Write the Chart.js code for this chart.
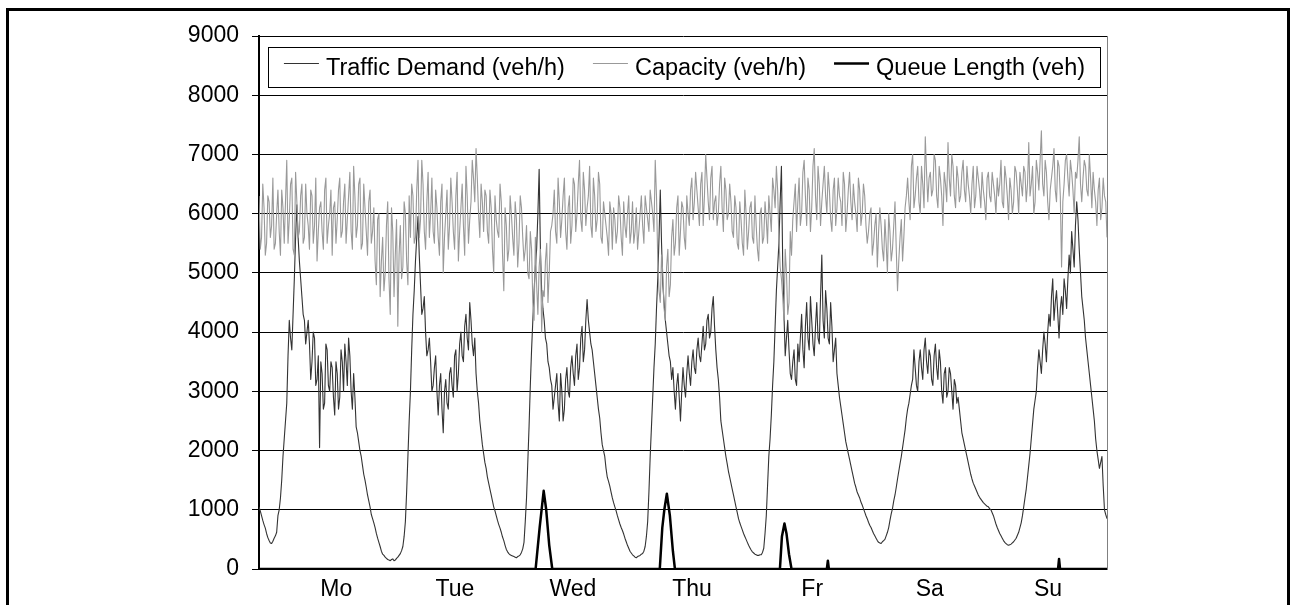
<!DOCTYPE html>
<html>
<head>
<meta charset="utf-8">
<title>Traffic demand, capacity and queue length</title>
<script src="https://cdn.jsdelivr.net/npm/chart.js@4.4.1/dist/chart.umd.min.js"></script>
<style>
  html, body { margin: 0; padding: 0; background: #fff; }
  #wrap { position: relative; width: 1292px; height: 605px; overflow: hidden; }
  #chart { position: absolute; left: 0; top: 0; display: block; }
  #frame { position: absolute; left: 6px; top: 8px; width: 1278px; height: 700px; border: 3px solid #000; pointer-events: none; }
</style>
</head>
<body>
<div id="wrap">
  <canvas id="chart" width="1292" height="605"></canvas>
  <div id="frame"></div>
</div>
<script>
// One week, index 0 = Monday 00:00. Main samples every 0.5 h,
// the "...Mid" arrays hold the readings a quarter hour after each main sample.
const stepHours = 0.5;
const dayLabels = ["Mo", "Tue", "Wed", "Thu", "Fr", "Sa", "Su"];
const dayLabelHours = [15.3, 38.8, 62.2, 85.8, 109.6, 132.9, 156.3];

// Traffic demand (veh/h)
const demand = [
  1050, 900, 750, 600, 480, 430, 520, 620, 1000, 1500,
  2200, 2800, 4200, 3700, 4900, 6150, 5200, 4600, 4200, 4000,
  3800, 3500, 3900, 3200, 2050, 3300, 2800, 3700, 3000, 3400,
  2600, 3300, 2900, 3500, 3800, 3100, 3600, 2700, 2900, 2300,
  2000, 1750, 1500, 1250, 1050, 850, 700, 520, 380, 250,
  200, 160, 140, 170, 150, 200, 260, 380, 800, 1900,
  3000, 4300, 5200, 5950, 4800, 4400, 4000, 3700, 3500, 3100,
  3600, 2600, 3300, 2300, 3200, 2700, 3400, 2900, 3700, 3300,
  4000, 3500, 4300, 3700, 4200, 3600, 3300, 2800, 2300, 1950,
  1700, 1450, 1250, 1050, 900, 750, 620, 480, 330, 260,
  230, 210, 190, 220, 280, 450, 1200, 2400, 3700, 4700,
  5400, 6750, 4700, 4200, 3800, 3400, 3100, 2900, 3300, 2500,
  3000, 2700, 3400, 2900, 3600, 3100, 3800, 3400, 4100, 3700,
  4550, 4000, 3700, 3300, 2900, 2550, 2100, 1900, 1550, 1400,
  1200, 1050, 900, 760, 650, 520, 400, 300, 240, 200,
  210, 230, 260, 380, 800, 1900, 2900, 3800, 4900, 6400,
  4800, 4200, 3800, 3500, 3400, 2700, 3300, 2500, 3400, 2900,
  3600, 3100, 3700, 3300, 3900, 3500, 4100, 3800, 4300, 4000,
  4600, 3700, 3200, 2500, 2200, 1900, 1650, 1450, 1250, 1050,
  850, 720, 600, 500, 400, 320, 270, 240, 230, 240,
  350, 900, 1900, 2600, 3500, 4700, 5500, 6800, 4300, 3900,
  3700, 3200, 3700, 3100, 3500, 4300, 3400, 4500, 3700, 4200,
  3600, 4500, 3800, 5300, 3900, 4400, 3800, 4100, 3700, 3300,
  2900, 2600, 2300, 2050, 1850, 1650, 1450, 1300, 1200, 1080,
  960, 850, 740, 650, 560, 480, 440, 460, 500, 620,
  820, 1020, 1250, 1520, 1780, 2050, 2350, 2700, 2950, 3200,
  3400, 3000, 3700, 3200, 3900, 3300, 3600, 3100, 3800, 3200,
  3500, 2800, 3400, 3000, 3300, 2700, 3100, 2900, 2500, 2200,
  2000, 1800, 1600, 1450, 1350, 1250, 1180, 1120, 1080, 1050,
  1000, 900, 760, 650, 560, 480, 430, 400, 420, 460,
  520, 620, 780, 1050, 1350, 1750, 2200, 2700, 3000, 3700,
  3300, 4000, 3500, 4300, 4600, 4200, 4700, 3900, 4600, 4900,
  4400, 5300, 5700, 5100, 6200, 5400, 4600, 4200, 3700, 3300,
  2900, 2500, 2000, 1700, 1900, 1000, 850
];
const demandMid = [
  980, 820, 690, 530, 440, 470, 560, 900, 1200, 1900,
  2500, 3600, 3900, 4300, 5600, 5600, 4900, 4300, 3800, 4200,
  3200, 4000, 3100, 3600, 3500, 2700, 3800, 3100, 3500, 2900,
  3500, 2700, 3700, 3000, 3500, 3900, 3000, 3300, 2400, 2150,
  1900, 1600, 1380, 1150, 920, 780, 600, 450, 300, 230,
  180, 150, 160, 140, 180, 230, 310, 550, 1300, 2500,
  3700, 4700, 5600, 5300, 4300, 4600, 3600, 3900, 3000, 3400,
  3000, 3100, 2700, 3000, 2800, 3300, 3100, 3600, 3000, 3800,
  3600, 4100, 3900, 4500, 3800, 3900, 3000, 2500, 2100, 1800,
  1550, 1350, 1150, 980, 820, 690, 540, 400, 290, 240,
  220, 200, 210, 240, 340, 800, 1800, 3100, 4200, 5100,
  6000, 5400, 4400, 3900, 3500, 3200, 2700, 3100, 2800, 3300,
  2500, 3200, 3000, 3400, 3300, 3600, 3200, 3900, 3500, 4200,
  4200, 3800, 3500, 3100, 2700, 2300, 2000, 1700, 1480, 1300,
  1120, 980, 830, 700, 590, 460, 350, 270, 220, 190,
  220, 250, 300, 550, 1300, 2400, 3400, 4400, 5600, 5500,
  4500, 4000, 3600, 3200, 3000, 3100, 2900, 3000, 3100, 3300,
  3300, 3500, 3400, 3700, 3600, 3800, 3700, 4200, 3900, 4400,
  4100, 3400, 2900, 2350, 2050, 1780, 1550, 1350, 1150, 950,
  780, 660, 550, 450, 360, 290, 250, 230, 240, 280,
  600, 1400, 2200, 3100, 4100, 5100, 6200, 5200, 3600, 4200,
  3300, 3500, 3200, 3800, 3900, 3700, 4100, 3900, 4600, 3800,
  4100, 3900, 4600, 4200, 4700, 3900, 4500, 3500, 3900, 3100,
  2750, 2450, 2150, 1950, 1750, 1550, 1380, 1250, 1130, 1020,
  900, 790, 700, 600, 520, 450, 430, 480, 560, 700,
  930, 1150, 1380, 1650, 1900, 2200, 2550, 2800, 3100, 3700,
  3100, 3500, 3400, 3700, 3500, 3700, 3200, 3600, 3400, 3700,
  3000, 3300, 2900, 3400, 3000, 3200, 2800, 2700, 2300, 2100,
  1900, 1700, 1520, 1400, 1300, 1210, 1150, 1100, 1060, 1020,
  950, 830, 700, 600, 520, 450, 410, 410, 440, 490,
  570, 700, 900, 1200, 1550, 1950, 2450, 2850, 3400, 3500,
  3700, 3800, 4000, 4100, 4900, 4500, 4300, 4400, 4300, 4700,
  4900, 5000, 5400, 5800, 5900, 5000, 4400, 3900, 3500, 3100,
  2700, 2200, 1850, 1800, 1400, 920
];

// Capacity (veh/h), same time steps
const capacity = [
  6300, 5600, 6100, 5500, 6200, 5800, 5400, 6000, 5700, 6400,
  5500, 6900, 5900, 6600, 5300, 6200, 5700, 6500, 5600, 6000,
  5400, 6300, 5800, 5200, 6100, 5700, 6400, 5500, 6000, 5300,
  6200, 5900, 6600, 5700, 6500, 5900, 6700, 5400, 6300, 5800,
  6600, 5500, 6100, 5300, 6400, 5700, 5200, 5900, 4600, 5600,
  5000, 6200, 4300, 5700, 5300, 4100, 5800, 5100, 6000, 4800,
  5600, 6300, 5600, 6900, 5900, 6500, 5400, 6700, 6000, 5700,
  6400, 5600, 6200, 5000, 6000, 5400, 6600, 5700, 6300, 5200,
  6100, 5800, 6800, 5500, 6200, 6600, 7100, 6000, 6500, 5700,
  6300, 5500, 6100, 5000, 5900, 5600, 6200, 4700, 5800, 5400,
  6000, 5300, 5900, 5500, 6100, 5200, 5800, 4900, 5400, 4200,
  4800, 5100, 4000, 4600, 5500, 5000, 5800, 6400, 5500, 6200,
  5900, 6600, 5400, 6300, 5800, 6500, 6000, 6900, 5700, 6400,
  6100, 6800, 5600, 6300, 5900, 6500, 5500, 6000, 5600, 6200,
  5400, 5900, 5700, 6100, 5300, 5800, 6000, 5500, 6200, 5700,
  5400, 6000, 5800, 6300, 5900, 6400, 6000, 6900, 5200, 4500,
  5000, 4200, 5400, 4800, 5900, 5500, 6300, 5700, 6100, 5400,
  6000, 6400, 5900, 6700, 6100, 6500, 5800, 7000, 6200, 6600,
  5900, 6300, 6000, 6800, 5700, 6400, 6000, 6200, 5600, 6100,
  5400, 5900, 5300, 6000, 5700, 6200, 5500, 5800, 5200, 6100,
  5600, 5900, 6300, 5700, 6400, 6800, 5600, 4900, 4200, 5000,
  4500, 5300, 6200, 5700, 6600, 6000, 6900, 5800, 6400, 6100,
  7100, 5900, 6500, 6200, 6800, 6000, 6400, 5700, 6600, 6100,
  6300, 5800, 6500, 6000, 6700, 5900, 6200, 5700, 6400, 6000,
  6300, 5500, 6000, 5300, 5800, 5100, 6100, 5400, 5900, 5000,
  5700, 5400, 6200, 4700, 5600, 5200, 6100, 6600, 5900, 7000,
  6300, 6800, 6000, 6500, 7300, 6200, 6700, 6400, 6900, 6100,
  6600, 5800, 6500, 7200, 6300, 6800, 6100, 6600, 6300, 6900,
  6200, 6500, 6000, 6800, 6300, 6600, 6100, 6400, 5900, 6700,
  6200, 6500, 6000, 6300, 6900, 6100, 6600, 5900, 6400, 6200,
  6700, 6000, 6500, 6800, 6200, 7200, 6500, 6000, 6900, 6400,
  7400, 6300, 6700, 5900, 6600, 7100, 6200, 6800, 5100, 6500,
  7000, 6300, 6700, 6000, 6600, 7300, 6200, 6900, 6400, 7000,
  6100, 6400, 5800, 6600, 6100, 6300, 5600
];
const capacityMid = [
  5400, 6500, 5300, 6300, 5600, 6600, 5500, 6400, 5300, 6100,
  6200, 5500, 6500, 5400, 6700, 5600, 6300, 5500, 6500, 5800,
  6400, 5500, 6600, 5700, 6200, 5400, 6600, 5800, 6400, 6100,
  5500, 6400, 5600, 6200, 5500, 6300, 5700, 6800, 5600, 6500,
  5400, 6500, 5700, 6200, 5500, 6100, 4800, 6000, 5200, 4700,
  5800, 4900, 6100, 4600, 5900, 5300, 4900, 6200, 5200, 6300,
  6500, 5500, 6400, 5600, 6900, 5700, 6200, 5600, 6600, 5500,
  6100, 5300, 6500, 5600, 6400, 5800, 6200, 5400, 6700, 5700,
  6500, 5300, 6300, 5900, 6900, 6200, 6600, 5600, 6200, 6400,
  5700, 6400, 5400, 6300, 5700, 6500, 5300, 6100, 5200, 6300,
  5600, 6200, 5100, 6300, 5600, 5400, 5000, 5700, 4500, 5600,
  4300, 5400, 4700, 5200, 4500, 5700, 6000, 5700, 6600, 5600,
  6300, 5700, 6100, 5500, 6600, 5700, 6500, 5900, 6700, 5800,
  6300, 5800, 6600, 5700, 6700, 5600, 6200, 5800, 5300, 6000,
  6100, 5500, 6300, 5600, 6200, 5600, 6300, 5700, 5500, 6100,
  5700, 6300, 5500, 6100, 5700, 6200, 5700, 6300, 4700, 5300,
  4400, 5100, 4600, 5600, 5300, 6100, 5300, 6200, 5600, 6300,
  5800, 6600, 6200, 6400, 5800, 6700, 6300, 6600, 5900, 6800,
  6200, 5800, 6500, 6100, 6600, 5900, 6500, 5700, 6300, 5500,
  6200, 5500, 6400, 5400, 6100, 5600, 6300, 5400, 6000, 5500,
  6200, 5500, 6000, 6600, 6100, 6400, 5100, 4600, 5400, 4300,
  5700, 5900, 6500, 6200, 5800, 6700, 6300, 6600, 5700, 6800,
  6300, 6800, 5800, 6500, 6300, 6700, 5900, 6400, 5800, 6600,
  6200, 6700, 5700, 6400, 6200, 6500, 6000, 6600, 5800, 6500,
  5800, 5700, 6100, 5500, 6000, 5700, 5800, 5200, 5500, 6000,
  5200, 5800, 5400, 5200, 5900, 5600, 6300, 6200, 6800, 6100,
  6600, 6200, 6800, 6100, 6700, 6600, 6300, 7000, 6300, 6800,
  6300, 6700, 6200, 6600, 7000, 6300, 6800, 6200, 6700, 6400,
  6800, 6300, 6500, 6100, 6800, 6400, 6700, 6200, 6600, 6300,
  6700, 6300, 6600, 6500, 6200, 6800, 6300, 6600, 6000, 6800,
  6400, 6700, 6300, 6700, 6500, 6300, 6800, 6200, 6700, 6900,
  6500, 6900, 6200, 6400, 6800, 6400, 6900, 6300, 6200, 6900,
  6600, 6900, 6400, 6700, 6900, 6500, 6600, 6800, 6300, 6600,
  6700, 6200, 6400, 5900, 6600, 6200
];

// Queue length (veh): zero most of the week, short peaks
const queueHours = [0, 54.8, 55.6, 56.4, 56.9, 57.5, 58.1, 79.4, 79.9, 80.3, 80.8, 81.4, 82.0, 82.4,
  103.2, 103.6, 104.1, 104.5, 105.0, 105.5, 112.5, 112.7, 112.9, 158.3, 158.5, 158.7, 168];
const queueValues = [0, 0, 700, 1320, 1000, 400, 0, 0, 700, 1000, 1270, 900, 300, 0,
  0, 550, 770, 600, 250, 0, 0, 140, 0, 0, 170, 0, 0];

// main + quarter-hour readings into one {x, y} series
const toPoints = (values, mids) => values.flatMap((v, i) => {
  const pts = [{ x: i * stepHours, y: v }];
  if (i < mids.length) pts.push({ x: i * stepHours + stepHours / 2, y: mids[i] });
  return pts;
});

const fontFamily = "'Liberation Sans', Arial, sans-serif";
const font = { family: fontFamily, size: 23 };

// legend in a framed box inside the top of the plot area (Excel style)
const insideLegend = {
  id: 'insideLegend',
  afterDraw(chart) {
    const a = chart.chartArea;
    const ctx = chart.ctx;
    const sets = chart.data.datasets;
    const sample = 35, textGap = 7, itemGap = 28;
    const boxLeft = a.left + 9.5, boxTop = a.top + 11.5;
    const boxW = a.right - a.left - 16, boxH = 40;

    ctx.save();
    ctx.font = '23.5px ' + fontFamily;
    const widths = sets.map((d) => sample + textGap + ctx.measureText(d.label).width);
    const total = widths.reduce((s, w) => s + w, 0) + itemGap * (sets.length - 1);

    ctx.fillStyle = '#fff';
    ctx.fillRect(boxLeft, boxTop, boxW, boxH);
    ctx.strokeStyle = '#000';
    ctx.lineWidth = 1;
    ctx.strokeRect(boxLeft, boxTop, boxW, boxH);

    let x = boxLeft + (boxW - total) / 2;
    const lineY = boxTop + 16;
    const textY = boxTop + 27.5;
    sets.forEach((d, i) => {
      ctx.strokeStyle = d.borderColor;
      ctx.lineWidth = d.borderWidth;
      ctx.beginPath();
      ctx.moveTo(x, lineY);
      ctx.lineTo(x + sample, lineY);
      ctx.stroke();
      ctx.fillStyle = '#000';
      ctx.textBaseline = 'alphabetic';
      ctx.textAlign = 'left';
      ctx.fillText(d.label, x + sample + textGap, textY);
      x += widths[i] + itemGap;
    });
    ctx.restore();
  }
};

new Chart(document.getElementById('chart'), {
  type: 'line',
  data: {
    datasets: [
      {
        label: 'Traffic Demand (veh/h)',
        data: toPoints(demand, demandMid),
        borderColor: '#333333',
        borderWidth: 1.1,
        order: 3
      },
      {
        label: 'Capacity (veh/h)',
        data: toPoints(capacity, capacityMid),
        borderColor: '#999999',
        borderWidth: 1.1,
        order: 2
      },
      {
        label: 'Queue Length (veh)',
        data: queueHours.map((h, i) => ({ x: h, y: queueValues[i] })),
        borderColor: '#000000',
        borderWidth: 2.5,
        order: 1
      }
    ]
  },
  options: {
    responsive: false,
    animation: false,
    devicePixelRatio: 1,
    events: [],
    layout: { padding: { left: 181, right: 185, top: 36, bottom: 0 } },
    elements: {
      point: { radius: 0 },
      line: { tension: 0, borderJoinStyle: 'round', fill: false }
    },
    plugins: {
      tooltip: { enabled: false },
      legend: { display: false }
    },
    scales: {
      x: {
        type: 'linear',
        min: 0,
        max: 168,
        afterBuildTicks: (scale) => {
          scale.ticks = dayLabelHours.map((h) => ({ value: h }));
        },
        afterFit: (scale) => { scale.height = 36; },
        ticks: {
          autoSkip: false,
          maxRotation: 0,
          padding: 7,
          color: '#000',
          font: font,
          callback: (value, index) => dayLabels[index]
        },
        grid: { display: false, drawOnChartArea: false, drawTicks: false },
        border: { color: '#000', width: 2 }
      },
      y: {
        min: 0,
        max: 9000,
        afterFit: (scale) => { scale.width = 78; },
        ticks: {
          stepSize: 1000,
          padding: 13,
          color: '#000',
          font: font,
          callback: (value) => String(value)
        },
        grid: { color: '#000', lineWidth: 1, tickLength: 7 },
        border: { color: '#000', width: 2 }
      },
      yRight: {
        position: 'right',
        min: 0,
        max: 9000,
        afterFit: (scale) => { scale.width = 0; },
        ticks: { display: false },
        grid: { drawOnChartArea: false, drawTicks: false },
        border: { color: '#808080', width: 1 }
      }
    }
  },
  plugins: [insideLegend]
});
</script>
</body>
</html>
